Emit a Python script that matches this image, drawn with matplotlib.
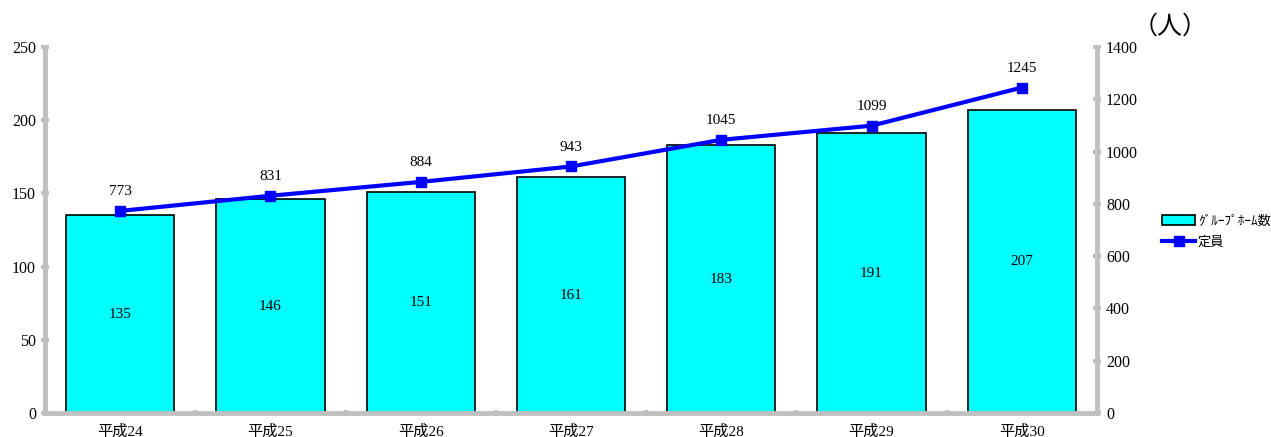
import numpy as np
import matplotlib
matplotlib.use("Agg")
import matplotlib.pyplot as plt

plt.rcParams['font.family'] = ['Liberation Serif', 'Noto Sans CJK JP']

years = ["平成24", "平成25", "平成26", "平成27", "平成28", "平成29", "平成30"]
homes = [135, 146, 151, 161, 183, 191, 207]
capacity = [773, 831, 884, 943, 1045, 1099, 1245]

grey = "#c0c0c0"

fig = plt.figure(figsize=(12.71, 4.37), dpi=100)
ax = fig.add_axes([0.0354, 0.0549, 0.8277, 0.8375])
ax2 = ax.twinx()

x = np.arange(len(years))
bars = ax.bar(x, homes, width=0.72, color="#00ffff", edgecolor="black", linewidth=1.2,
              label="ｸﾞﾙｰﾌﾟﾎｰﾑ数", zorder=2)
for xi, v in zip(x, homes):
    ax.text(xi, v / 2, str(v), ha="center", va="center", fontsize=11)

line, = ax2.plot(x, capacity, color="#0000ff", linewidth=3, marker="s", markersize=7,
                 label="定員", zorder=3)
for xi, v in zip(x, capacity):
    ax2.annotate(str(v), (xi, v), xytext=(0, 9), textcoords="offset points",
                 ha="center", va="bottom", fontsize=11)

ax.set_xlim(-0.5, 6.5)
ax.set_ylim(0, 250)
ax2.set_ylim(0, 1400)
ax.set_yticks(range(0, 251, 50))
ax2.set_yticks(range(0, 1401, 200))

ax.set_xticks(x)
ax.set_xticklabels(years, fontsize=11)
ax.set_xticks(np.arange(-0.5, 7, 1), minor=True)
ax.tick_params(axis="x", which="major", length=0, pad=8)
ax.tick_params(axis="x", which="minor", length=5, width=3, color=grey, direction="inout")
ax.tick_params(axis="y", length=6, width=3, color=grey, direction="inout", labelsize=11.5)
ax2.tick_params(axis="y", length=6, width=3, color=grey, direction="inout", labelsize=11.5)

for a in (ax, ax2):
    for s in a.spines.values():
        s.set_visible(False)
ax.spines["left"].set_visible(True)
ax.spines["bottom"].set_visible(True)
ax2.spines["right"].set_visible(True)
for s in (ax.spines["left"], ax.spines["bottom"], ax2.spines["right"]):
    s.set_color(grey)
    s.set_linewidth(3.5)

fig.text(0.891, 0.94, "（人）", fontsize=18, ha="left", va="center", family="Noto Sans CJK JP")

fig.legend([bars, line], ["ｸﾞﾙｰﾌﾟﾎｰﾑ数", "定員"], loc="center left",
           bbox_to_anchor=(0.905, 0.47), frameon=False,
           handlelength=2.5, handletextpad=0.2, labelspacing=0.6,
           prop={"family": "Noto Sans CJK JP", "size": 9.5})

fig.savefig("out.png", dpi=100)
